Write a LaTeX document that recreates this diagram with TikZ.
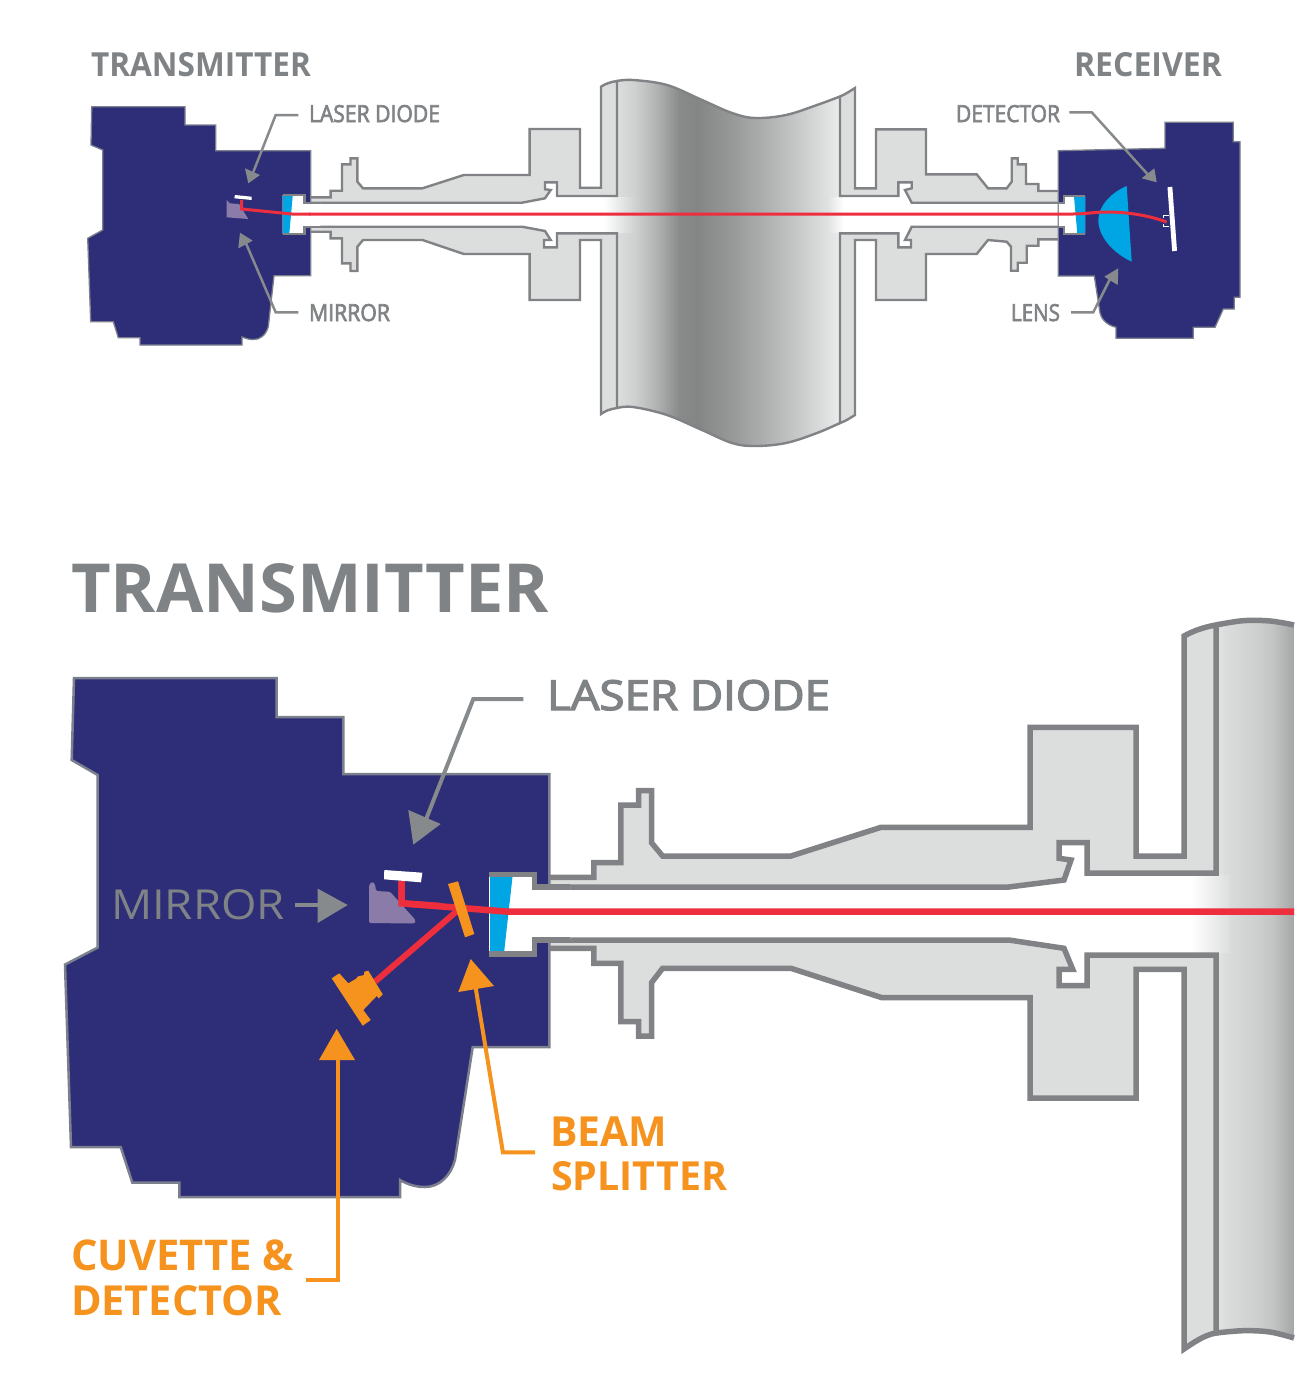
\documentclass[tikz,border=0pt]{standalone}
\usepackage{fontspec}
\setmainfont{Open Sans}
\newfontfamily\medfont[FakeBold=3]{Open Sans}
\usepackage{graphicx}
\definecolor{navy}{HTML}{2E2E78}
\definecolor{edgegray}{HTML}{808285}
\definecolor{hedge}{HTML}{7C808C}
\definecolor{bodygray}{HTML}{DCDEDD}
\definecolor{labelgray}{HTML}{808385}
\definecolor{beamred}{HTML}{EE2E3C}
\definecolor{winblue}{HTML}{00A5E3}
\definecolor{mirrorpurple}{HTML}{8A7BA8}
\definecolor{splitorange}{HTML}{F6921E}
\definecolor{arrowgray}{HTML}{868A8C}
\definecolor{bandlend}{HTML}{C8CAC9}
\definecolor{bandrend}{HTML}{E0E1E1}
\pgfdeclarehorizontalshading{pipetop}{100bp}{
 color(0bp)=(bodygray);
 color(25bp)=(bodygray);
 color(29bp)=(black!6!bodygray);
 color(34bp)=(black!20!bodygray);
 color(39bp)=(black!38!bodygray);
 color(43bp)=(black!40!bodygray);
 color(52bp)=(black!30!bodygray);
 color(64bp)=(black!12!bodygray);
 color(75bp)=(white!40!bodygray);
 color(100bp)=(white!40!bodygray)}
\pgfdeclarehorizontalshading{bandleft}{100bp}{
 color(0bp)=(white); color(25bp)=(white); color(30bp)=(white);
 color(75bp)=(bandlend); color(100bp)=(bandlend)}
\pgfdeclarehorizontalshading{bandright}{100bp}{
 color(0bp)=(bandrend); color(25bp)=(bandrend);
 color(60bp)=(white); color(100bp)=(white)}
\pgfdeclarehorizontalshading{pipebig}{100bp}{
 color(0bp)=(white!20!bodygray); color(25bp)=(white!20!bodygray);
 color(30bp)=(bodygray);
 color(52bp)=(black!7!bodygray);
 color(62bp)=(black!12!bodygray);
 color(75bp)=(black!25!bodygray); color(100bp)=(black!25!bodygray)}
\pgfdeclarehorizontalshading{bandbig}{100bp}{
 color(0bp)=(white); color(25bp)=(white); color(32bp)=(white);
 color(75bp)=(bodygray); color(100bp)=(bodygray)}
\tikzset{
 x=1pt,y=-1pt,
 every node/.style={inner sep=0pt,outer sep=0pt},
 housing/.style={fill=navy,draw=hedge,line join=miter},
 part/.style={fill=bodygray,draw=edgegray,line join=miter},
 thinpart/.style={part,line width=2.4pt},
 widepart/.style={part,line width=5.5pt},
 topnote/.style={text=labelgray,anchor=base west},
 leadgray/.style={draw=arrowgray,line join=miter},
 leadorange/.style={draw=splitorange,line join=miter,line width=4pt},
}
\newcommand{\fitbox}[3]{\resizebox{#1pt}{#2pt}{\fontsize{20}{24}\selectfont #3}}
\begin{document}
\begin{tikzpicture}
\useasboundingbox (0,0) rectangle (1294,1385);
\fill[white] (0,0) rectangle (1294,1385);

% ---------- upper view: pipe ----------
\path[shading=pipetop] plot[smooth,tension=.6] coordinates {(617,81)(633,80)(667,85)(702,100)(732,113)(755,118)(786,115)(817,105)(840,96.5)}
 -- plot[smooth,tension=.6] coordinates {(840,423)(817,433)(786,443)(755,446)(732,443)(702,430)(667,415)(633,407)(617,408)} -- cycle;
\draw[edgegray,line width=2.4pt] plot[smooth,tension=.6] coordinates {(617,81)(633,80)(667,85)(702,100)(732,113)(755,118)(786,115)(817,105)(840,96.5)};
\draw[edgegray,line width=2.4pt] plot[smooth,tension=.6] coordinates {(617,408)(633,407)(667,415)(702,430)(732,443)(755,446)(786,443)(817,433)(840,423)};
\path[shading=bandleft] (600,197.5) rectangle (640,232);
\path[shading=bandright] (828,197.5) rectangle (850,232);

% ---------- upper view: left fittings ----------
\draw[thinpart] (300,202.7) -- (522,202.7) -- (545,198.3) -- (550.7,190) -- (545,189.3) -- (545,182.3) -- (557,182.3) -- (557,196) -- (617,196) -- (617,81) .. controls (610,82) and (605,84) .. (601,86.7) -- (601,187.7) -- (580,187.7) -- (580,129) -- (529.6,129) -- (529.6,175) -- (463.8,175) -- (422.5,188.3) -- (363,188.3) -- (357.4,181.7) -- (357.4,158.3) -- (350.5,158.3) -- (350.5,164.3) -- (342,164.3) -- (342,190.7) -- (330.6,190.7) -- (330.6,197.3) -- (300,197.3) -- cycle;
\draw[thinpart] (300,226.7) -- (522,226.7) -- (545,231) -- (550.7,240) -- (544,240) -- (544,247.3) -- (557,247.3) -- (557,233.3) -- (617,233.3) -- (617,408) .. controls (610,409) and (605,411) .. (601,414) -- (601,240) -- (580,240) -- (580,300) -- (529.6,300) -- (529.6,254) -- (463.8,254) -- (422.5,240) -- (363,240) -- (357.4,246.7) -- (357.4,271) -- (350.5,271) -- (350.5,263.3) -- (342,263.3) -- (342,238.3) -- (330.6,238.3) -- (330.6,231.7) -- (300,231.7) -- cycle;

% ---------- upper view: right fittings ----------
\draw[thinpart] (1066,202.7) -- (911.7,202.7) -- (905,190) -- (911.7,188.3) -- (911.7,182.3) -- (898.3,182.3) -- (898.3,196) -- (840,196) -- (840,96.5) .. controls (846,94) and (850,91) .. (855,88) -- (855,188.3) -- (876,188.3) -- (876,129.3) -- (926,129.3) -- (926,174.3) -- (976.7,174.3) -- (988,188.3) -- (1006.7,188.3) -- (1011.7,181.7) -- (1011.7,158.3) -- (1017.7,158.3) -- (1017.7,164.3) -- (1026,164.3) -- (1026,184) -- (1038.3,184) -- (1038.3,191) -- (1066,191) -- cycle;
\draw[thinpart] (1066,226.7) -- (911.7,226.7) -- (905,240) -- (911,240) -- (911,247.3) -- (898.3,247.3) -- (898.3,233.3) -- (840,233.3) -- (840,423) .. controls (846,421) and (850,418) .. (855,415) -- (855,240) -- (876,240) -- (876,300) -- (926,300) -- (926,254) -- (976.7,254) -- (988,240) -- (1006.7,241.7) -- (1011,246.7) -- (1011,270.7) -- (1017.7,270.7) -- (1017.7,262.7) -- (1026.7,262.7) -- (1026.7,245.7) -- (1038.3,245.7) -- (1038.3,239.3) -- (1066,239.3) -- cycle;

% ---------- upper view: housings ----------
\draw[housing,line width=1.3pt] (91.7,106.7) -- (185,106.7) -- (185,125) -- (215.7,125) -- (215.7,150.7) -- (310.7,150.7) -- (310.7,275.7) -- (274,275.7) -- (268.3,326.7) .. controls (266,335) and (260,340) .. (253,339.5) .. controls (249,339.5) and (246,338.5) .. (242,337) -- (242,345) -- (140,345) -- (140,337.7) -- (118.3,337.7) -- (113.3,321.7) -- (90.7,321.7) -- (87.7,238.3) -- (102.7,230) -- (102.7,150) -- (91,145) -- cycle;
\draw[housing,line width=1.3pt] (1058.3,150.7) -- (1165,148.3) -- (1165,122.3) -- (1233.3,122.3) -- (1233.3,141.7) -- (1240,141.7) -- (1240,297.3) -- (1234.3,297.3) -- (1234.3,309) -- (1223.3,309) -- (1215,327.3) -- (1193.3,327.3) -- (1193.3,338.3) -- (1116,338.3) -- (1116,327.3) .. controls (1106,325) and (1101,318) .. (1100,313) -- (1094.3,276) -- (1058.3,276) -- cycle;

% upper left optics
\fill[white] (282.7,195) -- (304.3,195) -- (304.3,202.7) -- (320,202.7) -- (320,226.7) -- (304.3,226.7) -- (304.3,234) -- (282.7,234) -- cycle;
\fill[winblue] (283,196) -- (292.7,196) -- (289.3,233.5) -- (283,233.5) -- cycle;
\draw[edgegray,line width=2.4pt] (282.7,195) -- (304.3,195) -- (304.3,202.7) -- (320,202.7);
\draw[edgegray,line width=2.4pt] (282.7,234) -- (304.3,234) -- (304.3,226.7) -- (320,226.7);
\fill[mirrorpurple] (226.7,200) -- (230,203.3) -- (239,204) -- (248.3,219) -- (226.7,217.3) -- cycle;
\fill[white] (235,195) -- (251.7,196.7) -- (251.7,200) -- (234.3,198.3) -- cycle;

% upper right optics
\fill[white] (1058.8,202.7) -- (1064,202.7) -- (1064,196) -- (1085,196) -- (1085,234) -- (1064,234) -- (1064,226.7) -- (1058.8,226.7) -- cycle;
\fill[winblue] (1074,196.7) -- (1085,196.7) -- (1085,233.5) -- (1077.3,233.5) -- cycle;
\draw[edgegray,line width=1.8pt] (1058,202.7) -- (1064,202.7) -- (1064,196) -- (1085,196);
\draw[edgegray,line width=1.8pt] (1058,226.7) -- (1064,226.7) -- (1064,234) -- (1085,234);
\fill[winblue] (1126.7,186) .. controls (1110,193) and (1098.3,207) .. (1098.3,220) .. controls (1098.3,238) and (1115,254) .. (1131.7,261.7) -- cycle;
\fill[white] (1167.5,187.3) -- (1172.3,186.7) -- (1177,250.7) -- (1172.2,251.3) -- cycle;
\draw[white,line width=1.3pt] (1169,215.5) -- (1163.5,215.5) -- (1163.5,218);
\draw[white,line width=1.3pt] (1169,226.5) -- (1163.5,226.5) -- (1163.5,224);

% upper beam
\draw[beamred,line width=3pt] (309,214) -- (1073,214) .. controls (1085,214) and (1095,212) .. (1106,212) .. controls (1130,212) and (1150,216) .. (1166.7,222);
\draw[beamred,line width=3pt] (241.7,200) -- (241.7,209) -- (291.7,214) -- (310,214);

% ---------- upper view: labels ----------
\node[topnote] (toptx) at (91,76) {\fitbox{220}{24}{\bfseries TRANSMITTER}};
\node[topnote] (toprx) at (1074,76) {\fitbox{148}{24}{\bfseries RECEIVER}};
\node[topnote] (ldtop) at (309,122) {\fitbox{131}{17}{\medfont LASER DIODE}};
\node[topnote] (mrtop) at (309,321) {\fitbox{81}{17}{\medfont MIRROR}};
\node[topnote] (dttop) at (956,122) {\fitbox{104}{17}{\medfont DETECTOR}};
\node[topnote] (lntop) at (1011,321) {\fitbox{49}{17}{\medfont LENS}};

\coordinate (a1) at (298.3,115); \coordinate (a1b) at (275.7,115); \coordinate (a1c) at (253.3,172);
\draw[leadgray,line width=2.5pt] (a1) -- (a1b) -- (a1c);
\fill[arrowgray] (245,168.3) -- (260,175) -- (248.3,183.3) -- cycle;
\coordinate (a2) at (298.3,312.3); \coordinate (a2b) at (275.7,312.3); \coordinate (a2c) at (245,241);
\draw[leadgray,line width=2.5pt] (a2) -- (a2b) -- (a2c);
\fill[arrowgray] (240,232.7) -- (252.7,240.7) -- (238.3,248.3) -- cycle;
\coordinate (a3) at (1069.3,112.3); \coordinate (a3b) at (1091.7,112.3); \coordinate (a3c) at (1148.3,175);
\draw[leadgray,line width=2.5pt] (a3) -- (a3b) -- (a3c);
\fill[arrowgray] (1141.7,178.3) -- (1154.3,168.3) -- (1156.7,182.3) -- cycle;
\coordinate (a4) at (1071,312.3); \coordinate (a4b) at (1093.3,312.3); \coordinate (a4c) at (1111,277);
\draw[leadgray,line width=2.5pt] (a4) -- (a4b) -- (a4c);
\fill[arrowgray] (1104.3,276.7) -- (1118.3,268.3) -- (1117.7,285) -- cycle;

% ---------- lower view: pipe ----------
\path[shading=pipebig] plot[smooth,tension=.6] coordinates {(1216,625)(1243,620.7)(1270,621)(1294,625)} -- (1294,1338) -- plot[smooth,tension=.6] coordinates {(1270,1332)(1243,1330.7)(1216,1333)} -- cycle;
\path[shading=bandbig] (1185,875) rectangle (1230,952);
\draw[edgegray,line width=5.5pt] plot[smooth,tension=.6] coordinates {(1216,625)(1243,620.7)(1270,621)(1294,625)};
\draw[edgegray,line width=5.5pt] plot[smooth,tension=.6] coordinates {(1216,1333)(1243,1330.7)(1270,1332)(1294,1338)};

% lower view fittings
\draw[widepart] (540,887) -- (1008.8,887) -- (1064,880) -- (1071,860) -- (1059,858.3) -- (1059,842.7) -- (1087,842.7) -- (1087,873) -- (1216,873) -- (1216,625) .. controls (1204,627) and (1193,631) .. (1184,636) -- (1184,856) -- (1136,856) -- (1136,727.3) -- (1030,727.3) -- (1030,827.3) -- (881,827.3) -- (791,856) -- (662.6,856) -- (651.5,842.7) -- (651.5,790.7) -- (638.6,790.7) -- (638.6,805) -- (620.8,805) -- (620.8,862.7) -- (593.8,862.7) -- (593.8,877.3) -- (540,877.3) -- cycle;
\draw[widepart] (540,940) -- (1008.8,940) -- (1064,948.3) -- (1072.7,969.3) -- (1059,969.3) -- (1059,985.7) -- (1087,985.7) -- (1087,955) -- (1216,955) -- (1216,1333) .. controls (1204,1335) and (1193,1343) .. (1184,1349) -- (1184,969.3) -- (1136,969.3) -- (1136,1098) -- (1030,1098) -- (1030,997.7) -- (882,997.7) -- (791,968.3) -- (662.6,968.3) -- (651.5,982.7) -- (651.5,1036) -- (638.6,1036) -- (638.6,1021.7) -- (620.8,1021.7) -- (620.8,963.3) -- (593.8,963.3) -- (593.8,948.3) -- (540,948.3) -- cycle;

% lower housing
\draw[housing,line width=2.5pt] (74,678) -- (276.7,678) -- (276.7,717) -- (343.3,717) -- (343.3,774) -- (549.3,774) -- (549.3,1047) -- (472.7,1047) -- (455,1160) .. controls (451,1175) and (440,1187) .. (425,1187) .. controls (415,1187) and (407,1184) .. (400,1180) -- (400,1197) -- (179.3,1197) -- (179.3,1182.5) -- (132.3,1182.5) -- (120.7,1147) -- (71,1147) -- (65,964.6) -- (97.7,947.5) -- (97.7,775) -- (71.7,760) -- cycle;

% lower optics
\fill[white] (489,874.5) -- (534.3,874.5) -- (534.3,887) -- (570,887) -- (570,940) -- (534.3,940) -- (534.3,954) -- (489,954) -- cycle;
\fill[winblue] (490,875) -- (512.7,875) -- (504,953) -- (490,953) -- cycle;
\draw[edgegray,line width=5.5pt] (489.3,874.5) -- (534.3,874.5) -- (534.3,887) -- (570,887);
\draw[edgegray,line width=5.5pt] (489.3,954) -- (534.3,954) -- (534.3,940) -- (570,940);
\draw[beamred,line width=6pt] (375,981.7) -- (457,911);
\draw[beamred,line width=6.5pt,line join=miter] (401.7,881) -- (401.7,903.3) -- (508.3,911.7) -- (1294,911.7);
\fill[mirrorpurple,rounded corners=1.5pt] (369,885) -- (372,881.5) -- (375,884) -- (376,891) -- (390,891.7) -- (415.5,920) -- (415,923.5) -- (369,923) -- cycle;
\draw[beamred,line width=6.5pt,line join=miter] (401.7,881) -- (401.7,903.3) -- (440,906);
\fill[white] (384.3,870) -- (422.3,872.7) -- (421,882.3) -- (384,879.3) -- cycle;
\fill[splitorange] (448,884) -- (458,881.3) -- (474.3,934) -- (465,937.3) -- cycle;
\fill[splitorange] (331.7,978.3) -- (339.3,973.3) -- (348.3,983.3) -- (356.7,978.3) -- (357.3,976.7) -- (364,975) -- (364.3,971.7) -- (368.3,970.7) -- (382.7,994.3) -- (378.7,998.3) -- (376.7,996) -- (363.3,1010) -- (370.7,1020) -- (362.7,1025.7) -- cycle;

% lower labels
\node[text=labelgray,anchor=base west] (txbig) at (71,612) {\fitbox{478}{49}{\bfseries TRANSMITTER}};
\node[text=labelgray,anchor=base west] (ldbig) at (547,710) {\fitbox{283}{30}{\medfont LASER DIODE}};
\node[text=labelgray,anchor=base west] (mrbig) at (111,919) {\fitbox{174}{30}{MIRROR}};
\node[text=splitorange,anchor=base west] (bmbig) at (550.4,1146.7) {\fitbox{117}{29.7}{\bfseries BEAM}};
\node[text=splitorange,anchor=base west] (spbig) at (551,1190.7) {\fitbox{176}{29}{\bfseries SPLITTER}};
\node[text=splitorange,anchor=base west] (cvbig) at (71,1270.7) {\fitbox{223}{30.7}{\bfseries CUVETTE \&}};
\node[text=splitorange,anchor=base west] (dtbig) at (71,1315) {\fitbox{211}{30}{\bfseries DETECTOR}};

\coordinate (b1) at (523.3,699); \coordinate (b1b) at (473.3,699); \coordinate (b1c) at (425,822);
\draw[leadgray,line width=4pt] (b1) -- (b1b) -- (b1c);
\fill[arrowgray] (408.3,810) -- (440.7,824) -- (413.3,844.6) -- cycle;
\coordinate (b2) at (295,905); \coordinate (b2c) at (320,905);
\draw[leadgray,line width=4pt] (b2) -- (b2c);
\fill[arrowgray] (317.7,888.6) -- (347.7,905) -- (317.7,923) -- cycle;
\coordinate (b3) at (535,1152.3); \coordinate (b3b) at (502.9,1152.3); \coordinate (b3c) at (475.7,988);
\draw[leadorange] (b3) -- (b3b) -- (b3c);
\fill[splitorange] (470.7,959) -- (494,986) -- (458.3,992) -- cycle;
\coordinate (b4) at (305.5,1280); \coordinate (b4b) at (337.7,1280); \coordinate (b4c) at (337.7,1058);
\draw[leadorange] (b4) -- (b4b) -- (b4c);
\fill[splitorange] (336.7,1029) -- (355,1060) -- (319,1060) -- cycle;
\end{tikzpicture}
\end{document}
